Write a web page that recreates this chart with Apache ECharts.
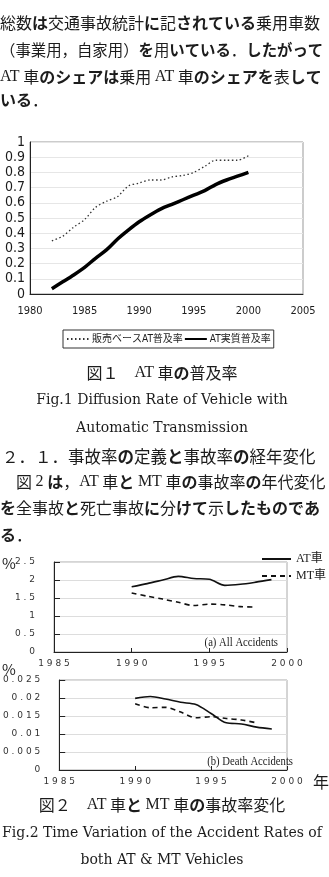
<!DOCTYPE html>
<html>
<head>
<meta charset="utf-8">
<script src="https://cdn.jsdelivr.net/npm/echarts@6/dist/echarts.min.js"></script>
<style>
html, body { margin: 0; padding: 0; background: #fff; }
#page { width: 329px; height: 877px; }
</style>
</head>
<body>
<div id="page"></div>
<script>
// Fig.1 : AT diffusion rate
const fig1Years = [1982, 1983, 1984, 1985, 1986, 1987, 1988, 1989, 1990, 1991,
                   1992, 1993, 1994, 1995, 1996, 1997, 1998, 1999, 2000];
const salesBaseRate = [0.35, 0.38, 0.44, 0.49, 0.57, 0.61, 0.64, 0.71, 0.73, 0.75,
                       0.75, 0.77, 0.78, 0.80, 0.84, 0.88, 0.88, 0.88, 0.91];
const actualRate = [0.035, 0.08, 0.125, 0.175, 0.235, 0.29, 0.36, 0.42, 0.475, 0.52,
                    0.56, 0.59, 0.62, 0.65, 0.68, 0.72, 0.75, 0.775, 0.80];
const fig1Names = ['販売ベースAT普及率', 'AT実質普及率'];

// Fig.2 : accident rates (%)
const fig2Years = [1990, 1991, 1992, 1993, 1994, 1995, 1996, 1997, 1998, 1999];
const allAT = [1.81, 1.90, 2.00, 2.10, 2.04, 2.02, 1.85, 1.88, 1.94, 2.01];
const allMT = [1.64, 1.55, 1.47, 1.38, 1.29, 1.33, 1.31, 1.26, 1.25];
const deathAT = [0.0199, 0.0204, 0.0197, 0.0188, 0.0182, 0.0157, 0.0131, 0.0128, 0.0119, 0.0114];
const deathMT = [0.0184, 0.0173, 0.0174, 0.0161, 0.0145, 0.0148, 0.0143, 0.0139, 0.0131];
const fig2Names = ['AT車', 'MT車'];

const pairs = (xs, ys) => ys.map((v, i) => [xs[i], v]);
const spaced = v => String(+v.toFixed(4)).split('').join(' ');

const JP = '"Noto Sans CJK JP", sans-serif';
const SERIF = '"Liberation Serif", "Noto Sans CJK JP", serif';
const CAP = '"DejaVu Serif", "Noto Sans CJK JP", serif';
const NARROW = '"Liberation Sans Narrow", "DejaVu Sans Condensed", "Noto Sans CJK JP", sans-serif';
const INK = '#1c1c1c';

// body text: kana bold, latin serif, the rest plain
function rich(str) {
  let out = '', cur = null, buf = '';
  for (const ch of str) {
    let k = 'n';
    if (/[\u3040-\u30ff]/.test(ch)) k = 'b';
    else if (/[A-Za-z0-9&]/.test(ch)) k = 's';
    if (k !== cur && buf) { out += '{' + cur + '|' + buf + '}'; buf = ''; }
    cur = k; buf += ch;
  }
  if (buf) out += '{' + cur + '|' + buf + '}';
  return out;
}
function line(str, x, y, size, align) {
  return {
    type: 'text', x: x, y: y,
    style: {
      text: rich(str), textAlign: align || 'left', textVerticalAlign: 'middle',
      rich: {
        n: { fontFamily: JP, fontSize: size, fill: INK },
        b: { fontFamily: JP, fontSize: size, fontWeight: 'bold', fill: INK },
        s: { fontFamily: SERIF, fontSize: size, fill: INK }
      }
    }
  };
}
function plain(str, x, y, size, font, align, sx) {
  return {
    type: 'text', x: x, y: y, scaleX: sx || 1,
    style: { text: str, fontFamily: font, fontSize: size, fill: INK,
             textAlign: align || 'left', textVerticalAlign: 'middle' }
  };
}

const chart = echarts.init(document.getElementById('page'));

const fig2x = (gi) => ({
  type: 'value', gridIndex: gi, min: 1985, max: 2000, interval: 5,
  axisLine: { lineStyle: { color: '#222' } },
  axisTick: { inside: true, length: 4, lineStyle: { color: '#222' } },
  axisLabel: { margin: 7, fontSize: 9, color: '#333', fontFamily: 'DejaVu Sans',
               formatter: v => spaced(v) },
  splitLine: { show: false }
});
const fig2y = (gi, max, step) => ({
  type: 'value', gridIndex: gi, min: 0, max: max, interval: step,
  axisLine: { show: true, lineStyle: { color: '#222' } },
  axisTick: { show: true, inside: true, length: 6, lineStyle: { color: '#222' } },
  axisLabel: { margin: 19, fontSize: 9, color: '#333', fontFamily: 'DejaVu Sans',
               formatter: v => spaced(v) },
  splitLine: { lineStyle: { color: '#ddd' } }
});

const lineSeries = (name, xi, data, color, width, type) => ({
  name: name, type: 'line', xAxisIndex: xi, yAxisIndex: xi, symbol: 'none',
  smooth: 0.3, data: data,
  itemStyle: { color: color },
  lineStyle: { color: color, width: width, type: type || 'solid' }
});

chart.setOption({
  animation: false,
  backgroundColor: '#fff',
  grid: [
    { left: 30, right: 26, top: 142, bottom: 583, show: true, borderColor: '#999' },
    { left: 54, right: 42, top: 562, bottom: 225, show: true, borderColor: '#aaa' },
    { left: 57, right: 42, top: 680, bottom: 107, show: true, borderColor: '#aaa' }
  ],
  xAxis: [
    { type: 'value', gridIndex: 0, min: 1980, max: 2005, interval: 5,
      axisLine: { lineStyle: { color: '#222' } }, axisTick: { show: false },
      axisLabel: { margin: 12, fontSize: 11, color: INK, fontFamily: NARROW,
                   formatter: v => String(v) },
      splitLine: { show: false } },
    fig2x(1), fig2x(2)
  ],
  yAxis: [
    { type: 'value', gridIndex: 0, min: 0, max: 1, interval: 0.1,
      axisLine: { show: true, lineStyle: { color: '#222' } }, axisTick: { show: false },
      axisLabel: { margin: 5, fontSize: 14, color: INK, fontFamily: NARROW },
      splitLine: { lineStyle: { color: '#e6e6e6' } } },
    fig2y(1, 2.5, 0.5), fig2y(2, 0.025, 0.005)
  ],
  legend: [
    { data: fig1Names, left: 63, top: 330, padding: [4, 3, 4, 3],
      borderColor: '#333', borderWidth: 1, itemWidth: 22, itemHeight: 10, itemGap: 1,
      itemStyle: { opacity: 0 },
      textStyle: { fontSize: 10, color: INK, fontFamily: NARROW, padding: [0, 0, 0, -2] } },
    { data: fig2Names, left: 261, top: 553, orient: 'vertical', padding: 0,
      itemWidth: 29, itemHeight: 8, itemGap: 5,
      itemStyle: { opacity: 0 },
      textStyle: { fontSize: 12, color: INK, fontFamily: SERIF } }
  ],
  series: [
    lineSeries(fig1Names[0], 0, pairs(fig1Years, salesBaseRate), '#333', 1.3, [1.5, 2.5]),
    lineSeries(fig1Names[1], 0, pairs(fig1Years, actualRate), '#000', 3.5),
    lineSeries(fig2Names[0], 1, pairs(fig2Years, allAT), '#111', 1.6),
    lineSeries(fig2Names[1], 1, pairs(fig2Years, allMT), '#111', 1.6, [5, 4]),
    lineSeries(fig2Names[0], 2, pairs(fig2Years, deathAT), '#111', 1.6),
    lineSeries(fig2Names[1], 2, pairs(fig2Years, deathMT), '#111', 1.6, [5, 4])
  ],
  graphic: [
    line('総数は交通事故統計に記されている乗用車数', 0, 23, 16),
    line('（事業用，自家用）を用いている．したがって', 0, 50, 15.4),
    line('AT 車のシェアは乗用 AT 車のシェアを表して', 0, 77, 16),
    line('いる．', 0, 100, 16),
    line('図１　AT 車の普及率', 162, 373, 16, 'center'),
    plain('Fig.1 Diffusion Rate of Vehicle with', 162, 400, 14, CAP, 'center'),
    plain('Automatic Transmission', 162, 428, 14, CAP, 'center'),
    line('２．１．事故率の定義と事故率の経年変化', 2, 457, 16.5),
    line('　図 2 は，AT 車と MT 車の事故率の年代変化', 0, 482, 16),
    line('を全事故と死亡事故に分けて示したものであ', 0, 508, 16),
    line('る．', 0, 535, 16),
    plain('%', 2, 563, 15, JP),
    plain('%', 2, 669, 15, JP),
    plain('(a) All Accidents', 278, 643, 13, SERIF, 'right', 0.82),
    plain('(b) Death Accidents', 293, 762, 13, SERIF, 'right', 0.82),
    plain('年', 313, 782, 16, JP),
    line('図２　AT 車と MT 車の事故率変化', 162, 805, 16, 'center'),
    plain('Fig.2 Time Variation of the Accident Rates of', 162, 833, 14, CAP, 'center'),
    plain('both AT & MT Vehicles', 162, 860, 14, CAP, 'center')
  ]
});
</script>
</body>
</html>
